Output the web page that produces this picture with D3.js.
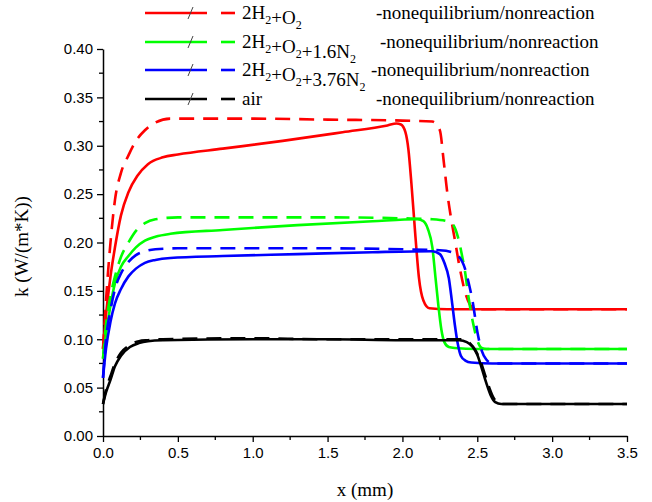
<!DOCTYPE html>
<html>
<head>
<meta charset="utf-8">
<script src="https://cdn.jsdelivr.net/npm/d3@7"></script>
<style>
  html, body { margin: 0; padding: 0; background: #fff; }
  svg { display: block; }
</style>
</head>
<body>
<svg id="chart" width="652" height="502"></svg>
<script>
// Thermal conductivity k along x for four mixtures; solid = nonequilibrium, dashed = nonreaction
const xTicks = [0.0, 0.5, 1.0, 1.5, 2.0, 2.5, 3.0, 3.5];
const yTicks = [0.00, 0.05, 0.10, 0.15, 0.20, 0.25, 0.30, 0.35, 0.40];

const seriesNames = ["2H2+O2", "2H2+O2+1.6N2", "2H2+O2+3.76N2", "air"];
const seriesColors = ["#ff0000", "#00ff00", "#0000ff", "#000000"];

// 2H2+O2
const h2o2NoneqX = [0, 0.02, 0.05, 0.08, 0.12, 0.17, 0.23, 0.3, 0.4, 0.5, 0.8, 1.2, 1.6, 1.9, 1.96, 1.99, 2.02, 2.04, 2.06, 2.085, 2.11, 2.14, 2.18, 2.3, 3.0, 3.5];
const h2o2NoneqK = [0.09, 0.125, 0.165, 0.195, 0.228, 0.252, 0.269, 0.281, 0.288, 0.291, 0.297, 0.305, 0.314, 0.321, 0.323, 0.322, 0.314, 0.296, 0.261, 0.21, 0.164, 0.14, 0.132, 0.131, 0.131, 0.131];
const h2o2NoreacX = [0, 0.02, 0.05, 0.08, 0.12, 0.17, 0.22, 0.28, 0.35, 0.45, 0.6, 1.0, 1.5, 2.0, 2.2, 2.25, 2.275, 2.3, 2.325, 2.35, 2.385, 2.42, 2.45, 2.48, 2.6, 3.5];
const h2o2NoreacK = [0.09, 0.14, 0.2, 0.244, 0.272, 0.29, 0.305, 0.316, 0.324, 0.328, 0.328, 0.328, 0.327, 0.326, 0.325, 0.316, 0.285, 0.251, 0.225, 0.203, 0.172, 0.148, 0.136, 0.131, 0.131, 0.131];

// 2H2+O2+1.6N2
const n16NoneqX = [0, 0.02, 0.05, 0.08, 0.12, 0.17, 0.22, 0.28, 0.35, 0.45, 0.8, 1.3, 1.8, 2.1, 2.14, 2.17, 2.2, 2.22, 2.24, 2.26, 2.28, 2.31, 2.35, 2.5, 3.5];
const n16NoneqK = [0.08, 0.105, 0.135, 0.158, 0.175, 0.186, 0.195, 0.202, 0.206, 0.209, 0.213, 0.218, 0.222, 0.224, 0.222, 0.214, 0.195, 0.165, 0.135, 0.11, 0.097, 0.092, 0.091, 0.09, 0.09];
const n16NoreacX = [0, 0.02, 0.05, 0.08, 0.12, 0.17, 0.22, 0.28, 0.35, 0.5, 1.0, 1.5, 2.0, 2.2, 2.3, 2.34, 2.37, 2.4, 2.42, 2.44, 2.47, 2.5, 2.53, 2.56, 3.5];
const n16NoreacK = [0.08, 0.115, 0.145, 0.165, 0.185, 0.2, 0.212, 0.22, 0.224, 0.226, 0.226, 0.226, 0.225, 0.224, 0.222, 0.218, 0.206, 0.185, 0.168, 0.145, 0.118, 0.099, 0.091, 0.09, 0.09];

// 2H2+O2+3.76N2
const n376NoneqX = [0, 0.02, 0.05, 0.08, 0.12, 0.17, 0.22, 0.28, 0.35, 0.45, 0.8, 1.3, 1.8, 2.2, 2.25, 2.28, 2.31, 2.33, 2.35, 2.37, 2.39, 2.42, 2.46, 2.6, 3.5];
const n376NoneqK = [0.06, 0.09, 0.118, 0.137, 0.152, 0.165, 0.173, 0.179, 0.182, 0.184, 0.186, 0.188, 0.19, 0.191, 0.188, 0.179, 0.163, 0.14, 0.115, 0.095, 0.083, 0.078, 0.076, 0.075, 0.075];
const n376NoreacX = [0, 0.02, 0.05, 0.08, 0.12, 0.17, 0.22, 0.28, 0.35, 0.5, 1.0, 1.5, 2.0, 2.25, 2.33, 2.38, 2.42, 2.44, 2.47, 2.5, 2.53, 2.56, 2.6, 3.5];
const n376NoreacK = [0.06, 0.1, 0.13, 0.152, 0.168, 0.18, 0.187, 0.191, 0.193, 0.194, 0.194, 0.194, 0.193, 0.192, 0.19, 0.185, 0.172, 0.16, 0.138, 0.108, 0.088, 0.079, 0.075, 0.075];

// air
const airNoneqX = [0, 0.02, 0.05, 0.08, 0.12, 0.18, 0.24, 0.3, 0.4, 1.0, 1.5, 2.0, 2.38, 2.43, 2.47, 2.5, 2.53, 2.56, 2.59, 2.62, 2.66, 3.0, 3.5];
const airNoneqK = [0.033, 0.045, 0.058, 0.072, 0.083, 0.092, 0.096, 0.098, 0.099, 0.1, 0.1, 0.099, 0.099, 0.097, 0.092, 0.084, 0.07, 0.055, 0.042, 0.035, 0.033, 0.033, 0.033];
const airNoreacX = [0, 0.02, 0.05, 0.08, 0.12, 0.18, 0.24, 0.3, 0.4, 1.0, 1.5, 2.0, 2.4, 2.45, 2.49, 2.52, 2.55, 2.58, 2.61, 2.64, 2.68, 3.0, 3.5];
const airNoreacK = [0.033, 0.048, 0.062, 0.075, 0.086, 0.094, 0.098, 0.099, 0.1, 0.101, 0.1, 0.1, 0.1, 0.096, 0.088, 0.078, 0.064, 0.05, 0.039, 0.034, 0.033, 0.033, 0.033];

const curves = [
  { color: 0, dashed: false, x: h2o2NoneqX, k: h2o2NoneqK },
  { color: 0, dashed: true,  x: h2o2NoreacX, k: h2o2NoreacK },
  { color: 1, dashed: false, x: n16NoneqX, k: n16NoneqK },
  { color: 1, dashed: true,  x: n16NoreacX, k: n16NoreacK },
  { color: 2, dashed: false, x: n376NoneqX, k: n376NoneqK },
  { color: 2, dashed: true,  x: n376NoreacX, k: n376NoreacK },
  { color: 3, dashed: false, x: airNoneqX, k: airNoneqK },
  { color: 3, dashed: true,  x: airNoreacX, k: airNoreacK }
];

const svg = d3.select("#chart");
const plotL = 103, plotR = 627, plotT = 49, plotB = 436;

const x = d3.scaleLinear().domain([0, 3.5]).range([plotL, plotR]);
const y = d3.scaleLinear().domain([0, 0.4]).range([plotB, plotT]);

const sansFont = "'Liberation Sans', Arial, sans-serif";
const serifFont = "'Liberation Serif', 'Times New Roman', serif";

// minor ticks
const xMinor = d3.range(0.25, 3.5, 0.5);
const yMinor = d3.range(0.025, 0.4, 0.05);

const gx = svg.append("g").attr("transform", `translate(0,${plotB})`);
gx.call(d3.axisBottom(x).tickValues(xTicks).tickFormat(d3.format(".1f")).tickSizeOuter(0).tickSizeInner(6).tickPadding(5));
gx.append("g").selectAll("line").data(xMinor).join("line")
  .attr("x1", d => x(d)).attr("x2", d => x(d)).attr("y1", 0).attr("y2", 4)
  .attr("stroke", "#000").attr("stroke-width", 1.3);

const gy = svg.append("g").attr("transform", `translate(${plotL},0)`);
gy.call(d3.axisLeft(y).tickValues(yTicks).tickFormat(d3.format(".2f")).tickSizeOuter(0).tickSizeInner(6).tickPadding(4));
gy.append("g").selectAll("line").data(yMinor).join("line")
  .attr("y1", d => y(d)).attr("y2", d => y(d)).attr("x1", 0).attr("x2", -4)
  .attr("stroke", "#000").attr("stroke-width", 1.3);

[gx, gy].forEach(g => {
  g.select(".domain").attr("stroke", "#000").attr("stroke-width", 1.5);
  g.selectAll(".tick line").attr("stroke", "#000").attr("stroke-width", 1.3);
  g.selectAll(".tick text").attr("font-family", sansFont).attr("font-size", 15).attr("fill", "#000");
});

// axis titles
svg.append("text").attr("x", 365).attr("y", 496)
  .attr("text-anchor", "middle").attr("font-family", serifFont).attr("font-size", 19)
  .text("x (mm)");
svg.append("text").attr("transform", `translate(28,${(plotT + plotB) / 2 + 4}) rotate(-90)`)
  .attr("text-anchor", "middle").attr("font-family", serifFont).attr("font-size", 19)
  .text("k (W/(m*K))");

// curves
const line = d3.line().x(d => x(d[0])).y(d => y(d[1])).curve(d3.curveMonotoneX);
const plot = svg.append("g");
curves.forEach(c => {
  plot.append("path")
    .datum(c.x.map((v, i) => [v, c.k[i]]))
    .attr("d", line)
    .attr("fill", "none")
    .attr("stroke", seriesColors[c.color])
    .attr("stroke-width", 2.6)
    .attr("stroke-linejoin", "round")
    .attr("stroke-dasharray", c.dashed ? "15,9" : null);
});

// legend
const legendRows = [13, 42, 70, 99];
const suffixX = [376, 380, 371, 376];
const legend = svg.append("g");

function writeFormula(textSel, name) {
  // digits following an element symbol become subscripts
  const parts = name.match(/[A-Z]\d+|\d+\.\d+|[^A-Za-z\d]+|[A-Za-z]+|\d+/g);
  parts.forEach(p => {
    if (/^[A-Z]\d+$/.test(p)) {
      textSel.append("tspan").text(p[0]);
      textSel.append("tspan").attr("font-size", 12).attr("dy", 5).text(p.slice(1));
      textSel.append("tspan").attr("dy", -5).text("");
    } else {
      textSel.append("tspan").text(p);
    }
  });
}

seriesNames.forEach((name, i) => {
  const yy = legendRows[i];
  const col = seriesColors[i];
  legend.append("line").attr("x1", 145).attr("x2", 207).attr("y1", yy).attr("y2", yy)
    .attr("stroke", col).attr("stroke-width", 2.6);
  legend.append("line").attr("x1", 221).attr("x2", 235).attr("y1", yy).attr("y2", yy)
    .attr("stroke", col).attr("stroke-width", 2.6);
  legend.append("line").attr("x1", 188).attr("x2", 193).attr("y1", yy + 6).attr("y2", yy - 6)
    .attr("stroke", "#444").attr("stroke-width", 1);
  const t = legend.append("text").attr("x", 242).attr("y", yy + 6)
    .attr("font-family", serifFont).attr("font-size", 19).attr("fill", "#000");
  writeFormula(t, name);
  legend.append("text").attr("x", suffixX[i]).attr("y", yy + 6)
    .attr("font-family", serifFont).attr("font-size", 19).attr("fill", "#000")
    .text("-nonequilibrium/nonreaction");
});
</script>
</body>
</html>
